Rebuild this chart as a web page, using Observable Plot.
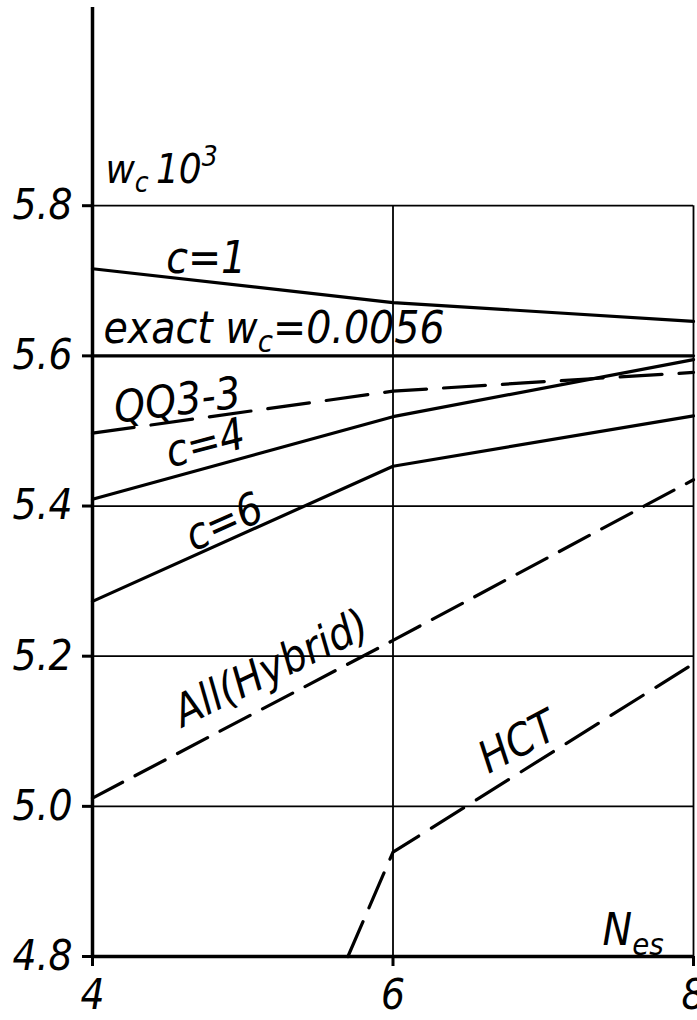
<!DOCTYPE html>
<html><head><meta charset="utf-8">
<script src="https://cdn.jsdelivr.net/npm/d3@7"></script>
<script src="https://cdn.jsdelivr.net/npm/@observablehq/plot@0.6"></script>
<style>
html,body{margin:0;padding:0;background:#fff;overflow:hidden;}
#chart svg{overflow:visible;}
</style></head><body><div id="chart"></div>
<script>
// ---- data ----
const nes = [4, 6, 8];
const c1 = [5.716, 5.671, 5.646];
const exact = [5.6, 5.6, 5.6];
const qq33 = [5.497, 5.553, 5.578];
const c4 = [5.409, 5.519, 5.595];
const c6 = [5.273, 5.453, 5.520];
const hybrid = [5.011, 5.221, 5.435];
const hctNes = [5.7, 6, 8];
const hct = [4.8, 4.939, 5.190];
const xTicks = [4, 6, 8];
const yTicks = [4.8, 5.0, 5.2, 5.4, 5.6, 5.8];
const yTickLabels = ["4.8", "5.0", "5.2", "5.4", "5.6", "5.8"];
const yAxisTop = 6.064;
const labelTexts = ["c=1", "exact w_{c}=0.0056", "QQ3-3", "c=4", "c=6", "All(Hybrid)", "HCT", "w_{c}\u200910^{3}", "N_{es}"];

const rows = (name, xs, ys) => xs.map((x, i) => ({series: name, x, y: ys[i]}));
const solid = [...rows("c=1", nes, c1), ...rows("exact", nes, exact), ...rows("c=4", nes, c4), ...rows("c=6", nes, c6)];
const dashQQ = rows("QQ3-3", nes, qq33);
const dashAll = rows("All(Hybrid)", nes, hybrid);
const dashHCT = rows("HCT", hctNes, hct);

const lab = (t, x, y, rotate, fontSize, textAnchor = "middle", lineAnchor = "middle") =>
  Plot.text([{x, y, t}], {x: "x", y: "y", text: "t", rotate, fontSize, textAnchor, lineAnchor, fill: "black"});

const chart = Plot.plot({
  width: 697,
  height: 1020,
  marginLeft: 92,
  marginRight: 4,
  marginTop: 7,
  marginBottom: 64,
  style: {fontFamily: "'DejaVu Sans Condensed', 'DejaVu Sans', sans-serif", fontStyle: "oblique", background: "white", color: "black"},
  x: {domain: [4, 8]},
  y: {domain: [4.8, yAxisTop]},
  marks: [
    Plot.ruleY(yTicks.slice(1), {x1: 4, x2: 8, stroke: "black", strokeWidth: 1.8}),
    Plot.ruleX([6, 8], {y1: 4.8, y2: 5.8, stroke: "black", strokeWidth: 1.8}),
    Plot.ruleY([4.8], {x1: 4, x2: 8, stroke: "black", strokeWidth: 3.5}),
    Plot.ruleX([4], {y1: 4.8, y2: yAxisTop, stroke: "black", strokeWidth: 3.5}),
    Plot.axisY({ticks: yTicks, tickFormat: d => yTickLabels[yTicks.indexOf(d)], tickSize: 10, tickPadding: 10, fontSize: 42, strokeWidth: 3, label: null}),
    Plot.axisX({ticks: xTicks, tickFormat: d => String(d), tickSize: 10, tickPadding: 13, fontSize: 42, strokeWidth: 3, label: null}),
    Plot.line(solid, {x: "x", y: "y", z: "series", stroke: "black", strokeWidth: 3.2}),
    Plot.line(dashQQ, {x: "x", y: "y", stroke: "black", strokeWidth: 3.2, strokeDasharray: "42,17"}),
    Plot.line(dashAll, {x: "x", y: "y", stroke: "black", strokeWidth: 3.2, strokeDasharray: "34,14"}),
    Plot.line(dashHCT, {x: "x", y: "y", stroke: "black", strokeWidth: 3.2, strokeDasharray: "38,15"}),
    lab(labelTexts[0], 4.757, 5.729, 0, 44),
    lab(labelTexts[1], 4.073, 5.6176, 0, 44, "start", "bottom"),
    lab(labelTexts[2], 4.565, 5.540, -7, 44),
    lab(labelTexts[3], 4.751, 5.483, -15, 44),
    lab(labelTexts[4], 4.877, 5.378, -24, 44),
    lab(labelTexts[5], 5.189, 5.1835, -26, 44),
    lab(labelTexts[6], 6.831, 5.085, -28, 44),
    lab(labelTexts[7], 4.086, 5.8306, 0, 40, "start", "bottom"),
    lab(labelTexts[8], 7.395, 4.815, 0, 44, "start", "bottom")
  ]
});

// rich text: _{sub} and ^{sup}
const NS = "http://www.w3.org/2000/svg";
chart.querySelectorAll("text").forEach(el => {
  const s = el.textContent;
  if (!/[_^]\{/.test(s)) return;
  const fs = parseFloat(el.getAttribute("font-size") || el.closest("[font-size]")?.getAttribute("font-size") || 40);
  el.textContent = "";
  let shift = 0;
  for (const p of s.split(/([_^]\{[^}]*\})/)) {
    if (!p) continue;
    let target = 0, txt = p, small = false;
    if (p.startsWith("_{")) { target = 0.22 * fs; txt = p.slice(2, -1); small = true; }
    else if (p.startsWith("^{")) { target = -0.42 * fs; txt = p.slice(2, -1); small = true; }
    const ts = document.createElementNS(NS, "tspan");
    ts.setAttribute("dy", (target - shift) + "px");
    if (small) ts.setAttribute("font-size", (0.7 * fs) + "px");
    ts.textContent = txt;
    el.appendChild(ts);
    shift = target;
  }
});
document.getElementById("chart").appendChild(chart);
</script></body></html>
